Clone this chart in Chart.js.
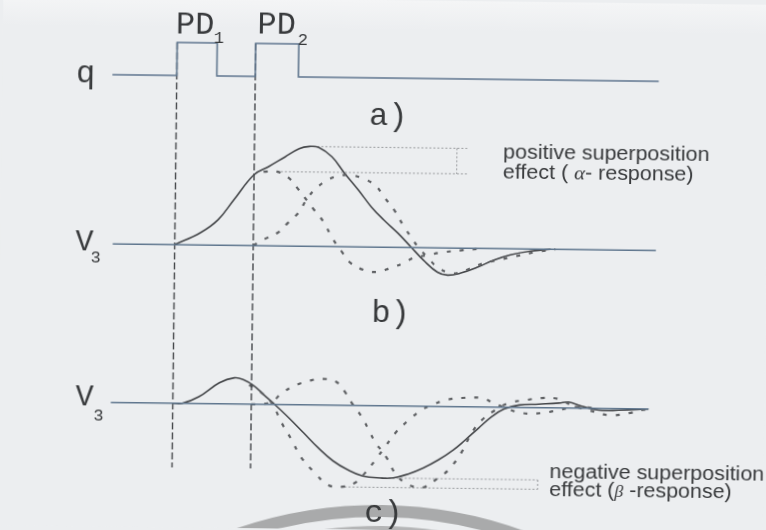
<!DOCTYPE html>
<html lang="en">
<head>
<meta charset="utf-8">
<title>V3 superposition of two pulse responses</title>
<script src="https://cdn.jsdelivr.net/npm/chart.js"></script>
<style>
  html, body { margin: 0; padding: 0; background: #eceef0; overflow: hidden; }
  /* the sheet sits a little crooked */
  #wrap { width: 766px; height: 530px; transform: rotate(0.7deg); }
</style>
</head>
<body>
<div id="wrap"><canvas id="chart" width="766" height="530"></canvas></div>
<script>
// time in ms, PD1 onset at t = 0, PD2 onset at t = 10
const qTimes  = [-8.2, 0, 5.1, 10, 15.5, 61.4];
const qLevels = [0, 3.3, 0, 3.3, 0, 0];

// b) alpha response: summed V3 and the two single responses [t, amplitude]
const sumB = [[0,0],[3.3,1.25],[5.5,2.56],[7.5,4.6],[10,7.1],[11.8,7.9],[13.9,8.9],[15.7,9.75],[17.0,9.98],
  [18.2,9.9],[19.9,8.97],[21.5,7.38],[23.3,5.7],[25.0,4.0],[26.6,2.72],[28.4,1.43],[30.1,0.05],[31.7,-1.24],
  [33.5,-2.43],[34.8,-2.72],[36.4,-2.51],[38.6,-1.89],[40.6,-1.17],[42.8,-0.6],[45.4,-0.2],[47.9,0]];
const pd1B = [[11.2,7.41],[12.9,7.43],[14.4,6.83],[15.7,5.64],[16.9,4.45],[17.7,3.65],[18.9,2.47],[20.1,0.8],
  [21.4,-0.61],[22.4,-1.6],[24.1,-2.29],[25.9,-2.48],[27.5,-2.07],[29.2,-1.56],[30.4,-1.05],[32.2,-0.74],
  [34.3,-0.42],[36.8,-0.2],[39.4,0]];
const pd2B = [[10,0],[11.3,0.61],[13.1,1.32],[14.4,2.33],[15.7,3.34],[16.7,4.65],[17.7,5.66],[19.0,6.47],
  [20.3,6.98],[22.0,7.19],[23.7,6.9],[25.4,6.21],[26.6,5.02],[27.9,3.73],[29.2,2.04],[30.1,1.05],[31.0,0.06],
  [32.2,-0.94],[33.5,-1.93],[35.2,-2.52],[36.4,-2.41],[37.7,-2.0],[39.4,-1.48],[41.1,-1.17],[43.4,-0.75],
  [46.0,-0.3],[48.5,0]];

// c) beta response
const sumC = [[0,0],[1.2,0],[3.3,0.68],[5.9,2.1],[7.8,2.62],[9.0,2.43],[10.3,1.84],[11.6,0.95],[12.9,0.06],
  [14.8,-1.32],[16.7,-2.8],[18.6,-4.29],[20.5,-5.57],[22.4,-6.45],[24.3,-7.04],[26.6,-7.22],[28.2,-7.2],
  [30.1,-6.79],[32.0,-6.17],[33.9,-5.35],[35.8,-4.33],[37.3,-3.32],[39.0,-2.1],[40.6,-0.99],[42.2,-0.18],
  [44.1,0.24],[46.6,0.36],[49.2,0.49],[50.4,0.6],[52.1,0.21],[54.3,-0.17],[56.8,-0.15],[60.6,0]];
const pd1C = [[9.7,1.93],[11.3,1.15],[12.6,0.16],[13.9,-1.83],[15.2,-3.52],[16.4,-5.21],[18.2,-6.79],
  [19.9,-7.98],[21.5,-8.16],[23.3,-7.75],[24.6,-6.73],[25.9,-5.42],[27.1,-4.11],[28.4,-2.7],[30.1,-1.38],
  [31.7,-0.37],[33.0,0.14],[34.8,0.66],[36.8,0.88],[39.4,0.9],[40.6,0.51],[42.4,-0.07],[44.5,-0.55],
  [47.0,-0.53],[49.2,-0.21],[51.3,0.11],[54.3,0]];
const pd2C = [[10,0],[10.7,0],[12.6,0.26],[13.9,1.17],[15.7,1.98],[17.3,2.4],[19.0,2.62],[20.8,2.33],
  [22.0,1.24],[22.8,0.25],[24.1,-1.14],[25.0,-2.43],[25.9,-3.73],[26.6,-4.42],[27.5,-5.41],[28.4,-6.7],
  [29.7,-7.69],[31.0,-8.08],[32.2,-8.07],[33.9,-7.15],[35.2,-6.34],[36.8,-4.63],[38.1,-2.61],[39.4,-1.3],
  [41.1,-0.29],[42.8,0.43],[45.0,0.75],[47.0,0.97],[49.2,0.89],[50.8,0.3],[53.0,-0.18],[55.5,-0.66],
  [58.1,-0.44],[59.7,-0.12],[61.3,0]];

const pulseOnsets = [0, 10];

// vertical placement of the three traces on the shared y scale
const qBase = 45.2, bBase = 28.28, cBase = 12.42;
const axisStart = -7.9, axisEnd = 61.3;

const ink = '#45474a', axisInk = '#5f768e', dotInk = '#5e6063', faint = '#9a9c9f';

function shift(pairs, base) { return pairs.map(([t, v]) => ({ x: t, y: v + base })); }
function peak(pairs, sign) {
  return pairs.reduce((best, p) => (sign * p[1] > sign * best[1] ? p : best));
}

function solid(data, color, width) {
  return { data, borderColor: color, borderWidth: width, pointRadius: 0, fill: false,
           tension: 0.4, clip: false };
}
function dotted(data) {
  return { data, borderColor: dotInk, borderWidth: 2.2, borderDash: [4, 9], pointRadius: 0,
           fill: false, tension: 0.4, clip: false };
}
function thin(data) {
  return { data, borderColor: faint, borderWidth: 1, borderDash: [2, 2], pointRadius: 0,
           fill: false, tension: 0, clip: false };
}

// superposition effect markers, taken from the curves themselves
const posTop = peak(sumB, 1), posLow = peak(pd1B, 1), posEnd = 37.1, posBar = 35.8;
const negTop = peak(sumC, -1), negLow = peak(pd1C, -1), negEnd = 46.6;

const datasets = [
  // stimulation
  Object.assign(solid(qTimes.map((t, i) => ({ x: t, y: qLevels[i] + qBase })), axisInk, 1.6),
                { stepped: 'before', tension: 0 }),
  // baselines
  Object.assign(solid([{ x: axisStart, y: bBase }, { x: axisEnd, y: bBase }], axisInk, 1.6), { tension: 0 }),
  Object.assign(solid([{ x: axisStart, y: cBase }, { x: axisEnd - 0.7, y: cBase }], axisInk, 1.6), { tension: 0 }),
  // onset guides
  ...pulseOnsets.map(t => ({ data: [{ x: t, y: qBase + 3.3 }, { x: t, y: 6.0 }], borderColor: ink,
    borderWidth: 1.4, borderDash: [7, 3], pointRadius: 0, clip: false })),
  // single responses
  dotted(shift(pd1B, bBase)), dotted(shift(pd2B, bBase)),
  dotted(shift(pd1C, cBase)), dotted(shift(pd2C, cBase)),
  // summed responses
  solid(shift(sumB, bBase), ink, 1.6),
  solid(shift(sumC, cBase), ink, 1.6),
  // alpha marker
  thin([{ x: posTop[0], y: posTop[1] + bBase }, { x: posEnd, y: posTop[1] + bBase }]),
  thin([{ x: posLow[0], y: posLow[1] + bBase }, { x: posEnd, y: posLow[1] + bBase }]),
  thin([{ x: posBar, y: posTop[1] + bBase }, { x: posBar, y: posLow[1] + bBase }]),
  // beta marker
  thin([{ x: negTop[0], y: negTop[1] + cBase }, { x: negEnd, y: negTop[1] + cBase }]),
  thin([{ x: negLow[0], y: negLow[1] + cBase }, { x: negEnd, y: negLow[1] + cBase }]),
  thin([{ x: negEnd, y: negTop[1] + cBase }, { x: negEnd, y: negLow[1] + cBase }])
];

const mono = '"Liberation Mono", "Courier New", monospace';
const sans = '"Liberation Sans", Arial, sans-serif';

const labels = [
  { text: 'q',  t: -11.6, y: 44.44, font: '32px ' + mono },
  { text: 'PD', t: -0.2,  y: 49.45, font: '32px ' + mono, align: 'left' },
  { text: '1',  t: 5.3,   y: 48.5,  font: '17px ' + mono },
  { text: 'PD', t: 10.2,  y: 49.55, font: '32px ' + mono, align: 'left' },
  { text: '2',  t: 16.0,  y: 48.4,  font: '17px ' + mono },
  { text: 'a)', t: 27.0,  y: 40.5,  font: '32px ' + mono },
  { text: 'V',  t: -11.5, y: 27.63, font: '30px ' + mono },
  { text: '3',  t: -10.05, y: 26.45, font: '17px ' + mono },
  { text: 'b)', t: 27.6,  y: 20.8,  font: '32px ' + mono },
  { text: 'V',  t: -11.25, y: 12.15, font: '30px ' + mono },
  { text: '3',  t: -9.45, y: 10.65, font: '17px ' + mono },
  { text: 'c)', t: 27.0,  y: 0.8,   font: '32px ' + mono }
];

// notes: pieces drawn one after the other, greek letters in italic serif,
// the sans lettering is set a touch wide
const noteFont = '19.5px ' + sans;
const noteStretch = 1.1;
const notes = [
  { t: 41.7, y: 37.35, parts: [['positive superposition', noteFont]] },
  { t: 41.7, y: 35.35, parts: [['effect ( ', noteFont], ['\u03b1', 'italic 19px "Liberation Serif", serif'], ['- response)', noteFont]] },
  { t: 48.1, y: 5.4,   parts: [['negative superposition', noteFont]] },
  { t: 48.1, y: 3.6,   parts: [['effect (', noteFont], ['\u03b2', 'italic 16px "Liberation Serif", serif'], [' -response)', noteFont]] }
];

const paper = {
  id: 'paper',
  beforeDraw(chart) {
    const { ctx, width, height } = chart;
    ctx.save();
    const g = ctx.createLinearGradient(0, 0, 0, 30);
    g.addColorStop(0, '#f4f5f6');
    g.addColorStop(1, '#eceef0');
    ctx.fillStyle = g;
    ctx.fillRect(-20, -20, width + 40, height + 40);
    // stamp ring along the bottom edge
    ctx.lineWidth = 12;
    ctx.strokeStyle = '#a9aaab';
    ctx.beginPath();
    ctx.arc(385, 938, 427, 0, Math.PI * 2);
    ctx.stroke();
    ctx.lineWidth = 8;
    ctx.strokeStyle = '#b4b5b6';
    ctx.beginPath();
    ctx.arc(385, 938, 408, 0, Math.PI * 2);
    ctx.stroke();
    ctx.restore();
  }
};

const lettering = {
  id: 'lettering',
  afterDatasetsDraw(chart) {
    const { ctx, scales: { x, y } } = chart;
    ctx.save();
    ctx.fillStyle = '#383a3c';
    ctx.textBaseline = 'alphabetic';
    labels.forEach(l => {
      ctx.font = l.font;
      ctx.textAlign = l.align || 'center';
      ctx.fillText(l.text, x.getPixelForValue(l.t), y.getPixelForValue(l.y));
    });
    ctx.textAlign = 'left';
    notes.forEach(n => {
      let px = x.getPixelForValue(n.t);
      const py = y.getPixelForValue(n.y);
      n.parts.forEach(([s, f]) => {
        ctx.font = f;
        ctx.save();
        ctx.translate(px, py);
        ctx.scale(noteStretch, 1);
        ctx.fillText(s, 0, 0);
        ctx.restore();
        px += ctx.measureText(s).width * noteStretch;
      });
    });
    ctx.restore();
  }
};

new Chart(document.getElementById('chart'), {
  type: 'line',
  data: { datasets },
  options: {
    responsive: false,
    animation: false,
    layout: { padding: 0 },
    scales: {
      x: { type: 'linear', min: -22.23, max: 75.35, display: false },
      y: { type: 'linear', min: 0, max: 53, display: false }
    },
    plugins: { legend: { display: false }, tooltip: { enabled: false } }
  },
  plugins: [paper, lettering]
});
</script>
</body>
</html>
